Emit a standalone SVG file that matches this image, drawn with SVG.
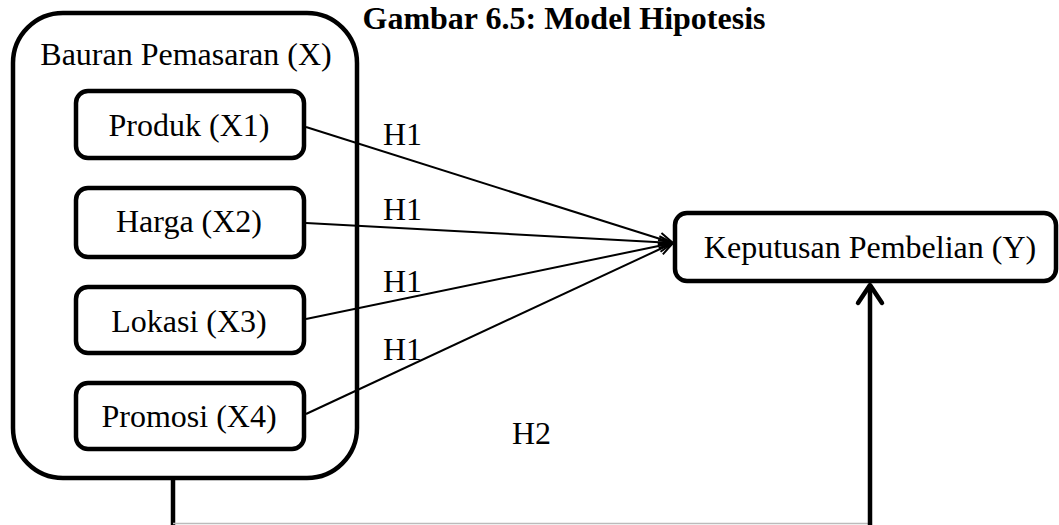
<svg xmlns="http://www.w3.org/2000/svg" width="1059" height="525" viewBox="0 0 1059 525">
<style>
  .box { fill: #fff; stroke: #000; stroke-width: 4.5; }
  .t { font-family: "Liberation Serif", "Times New Roman", serif; font-size: 32px; fill: #000; }
  .mid { text-anchor: middle; }
  .thin { fill: none; stroke: #000; stroke-width: 2; }
  .thick { fill: none; stroke: #000; stroke-width: 4.5; }
</style>
<defs>
  <marker id="open" viewBox="0 0 16 14" refX="15" refY="7" markerWidth="16" markerHeight="14" markerUnits="userSpaceOnUse" orient="auto">
    <path d="M1,1 L15,7 L1,13" fill="none" stroke="#000" stroke-width="2"/>
  </marker>
</defs>
<rect width="1059" height="525" fill="#fff"/>
<text class="t mid" x="564" y="29" font-weight="bold">Gambar 6.5: Model Hipotesis</text>

<g id="bauran">
  <rect class="box" x="13" y="13" width="344" height="465" rx="50" ry="50"/>
  <text class="t mid" x="186" y="65">Bauran Pemasaran (X)</text>
</g>
<g id="produk">
  <rect class="box" x="76" y="91" width="228" height="67" rx="12" ry="12"/>
  <text class="t mid" x="189" y="136">Produk (X1)</text>
</g>
<g id="harga">
  <rect class="box" x="76" y="188" width="228" height="69" rx="12" ry="12"/>
  <text class="t mid" x="189" y="232">Harga (X2)</text>
</g>
<g id="lokasi">
  <rect class="box" x="76" y="287" width="228" height="66" rx="12" ry="12"/>
  <text class="t mid" x="189" y="332">Lokasi (X3)</text>
</g>
<g id="promosi">
  <rect class="box" x="76" y="383" width="228" height="66" rx="12" ry="12"/>
  <text class="t mid" x="189" y="427">Promosi (X4)</text>
</g>
<g id="keputusan">
  <rect class="box" x="675" y="213" width="381" height="68" rx="12" ry="12"/>
  <text class="t mid" x="870" y="258">Keputusan Pembelian (Y)</text>
</g>

<g id="connectors">
  <line class="thin" x1="306" y1="127" x2="673" y2="243" marker-end="url(#open)"/>
  <line class="thin" x1="306" y1="223" x2="673" y2="243" marker-end="url(#open)"/>
  <line class="thin" x1="306" y1="319" x2="673" y2="243" marker-end="url(#open)"/>
  <line class="thin" x1="306" y1="414" x2="673" y2="243" marker-end="url(#open)"/>
  <line class="thick" x1="173" y1="478" x2="173" y2="525"/>
  <line x1="173" y1="523.5" x2="870" y2="523.5" stroke="#bbb" stroke-width="1.5"/>
  <line class="thick" x1="870" y1="525" x2="870" y2="285"/>
  <path class="thick" d="M858,303 L870,285 L882,303" stroke-linecap="round" stroke-linejoin="round"/>
  <text class="t" x="383" y="145">H1</text>
  <text class="t" x="383" y="220">H1</text>
  <text class="t" x="383" y="292">H1</text>
  <text class="t" x="383" y="360">H1</text>
  <text class="t" x="512" y="444">H2</text>
</g>
</svg>
